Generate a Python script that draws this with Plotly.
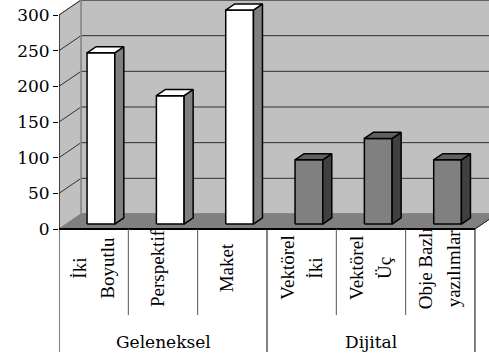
import plotly.graph_objects as go

# ---- data -------------------------------------------------------------
categories = ["İki Boyutlu", "Perspektif", "Maket",
              "Vektörel İki", "Vektörel Üç", "Obje Bazlı yazılımlar"]
label_lines = [["İki", "Boyutlu"], ["Perspektif"], ["Maket"],
               ["Vektörel", "İki"], ["Vektörel", "Üç"], ["Obje Bazlı", "yazılımlar"]]
groups = ["Geleneksel", "Dijital"]
group_of = [0, 0, 0, 1, 1, 1]
values = [240, 180, 300, 90, 120, 90]
y_ticks = [0, 50, 100, 150, 200, 250, 300]

# ---- geometry of the pseudo-3D frame ----------------------------------
W, H = 489, 356
LEFT = 59                 # left margin (px) = front value axis
CAT_PX = 69.33            # px per category
ZERO_PX = 229             # px row of value 0 on the front plane
PPU = 214 / 300           # px per value unit
X0 = -0.5
NCAT = len(values)
X_MAX = X0 + (W - LEFT) / CAT_PX
Y_MIN = -(H - ZERO_PX) / PPU
Y_MAX = ZERO_PX / PPU
DX = 22 / CAT_PX          # depth offset of the back wall (x units)
DY = 15 / PPU             # depth offset of the back wall (value units)
VMAX = max(y_ticks)
BAR_W = 0.40
F0, F1 = 0.33, 0.74       # bar front / back depth fractions


def y_of_px(p):
    return (ZERO_PX - p) / PPU


front_col = ["#FFFFFF", "#808080"]
side_col = ["#808080", "#404040"]
top_col = ["#FFFFFF", "#606060"]
FONT = "Liberation Serif, Times New Roman, serif"

fig = go.Figure()
shapes = []

# back wall
shapes.append(dict(type="rect", xref="x", yref="y", layer="below",
                   x0=X0 + DX, x1=X_MAX + 1, y0=DY, y1=VMAX + DY,
                   fillcolor="#C0C0C0", line=dict(color="#808080", width=1.5)))
# left side wall
shapes.append(dict(type="path", xref="x", yref="y", layer="below",
                   path=f"M {X0},0 L {X0},{VMAX} L {X0+DX},{VMAX+DY} L {X0+DX},{DY} Z",
                   fillcolor="#C0C0C0", line=dict(color="#808080", width=1)))
# floor
x_end = X0 + NCAT
shapes.append(dict(type="path", xref="x", yref="y", layer="below",
                   path=f"M {X0},0 L {X0+DX},{DY} L {x_end+DX},{DY} L {x_end},0 Z",
                   fillcolor="#808080", line=dict(color="#808080", width=1)))
# gridlines on back wall and side wall
for v in y_ticks[1:]:
    shapes.append(dict(type="line", xref="x", yref="y", layer="below",
                       x0=X0 + DX, x1=X_MAX + 1, y0=v + DY, y1=v + DY,
                       line=dict(color="#303030", width=1)))
    shapes.append(dict(type="line", xref="x", yref="y", layer="below",
                       x0=X0, x1=X0 + DX, y0=v, y1=v + DY,
                       line=dict(color="#303030", width=1)))
# back corner edge
shapes.append(dict(type="line", xref="x", yref="y", layer="below",
                   x0=X0 + DX, x1=X0 + DX, y0=DY, y1=VMAX + DY,
                   line=dict(color="#909090", width=1.5)))
# floor right edge
shapes.append(dict(type="line", xref="x", yref="y",
                   x0=x_end, x1=x_end + DX, y0=0, y1=DY,
                   line=dict(color="#202020", width=1)))
# front value axis and category axis
shapes.append(dict(type="line", xref="x", yref="y",
                   x0=X0, x1=X0, y0=0, y1=VMAX, line=dict(color="black", width=1.2)))
shapes.append(dict(type="line", xref="x", yref="y",
                   x0=X0, x1=x_end, y0=0, y1=0, line=dict(color="black", width=2)))

# category dividers below the axis
for k in range(NCAT + 1):
    boundary = k == 0 or k == NCAT or group_of[k - 1] != group_of[k]
    bottom = y_of_px(352 if boundary else 315)
    shapes.append(dict(type="line", xref="x", yref="y",
                       x0=X0 + k, x1=X0 + k, y0=0, y1=bottom,
                       line=dict(color="black" if boundary else "#555555", width=1)))

# ---- bars as extruded boxes -------------------------------------------
for i, v in enumerate(values):
    g = group_of[i]
    xl = i - BAR_W / 2 + DX * F0
    xr = i + BAR_W / 2 + DX * F0
    yb = DY * F0
    yt = v + DY * F0
    ddx = DX * (F1 - F0)
    ddy = DY * (F1 - F0)
    faces = [
        ([xl, xr, xr, xl, xl], [yb, yb, yt, yt, yb], front_col[g]),
        ([xr, xr + ddx, xr + ddx, xr, xr], [yb, yb + ddy, yt + ddy, yt, yb], side_col[g]),
        ([xl, xr, xr + ddx, xl + ddx, xl], [yt, yt, yt + ddy, yt + ddy, yt], top_col[g]),
    ]
    for fx, fy, col in faces:
        fig.add_trace(go.Scatter(x=fx, y=fy, mode="lines", fill="toself",
                                 fillcolor=col, line=dict(color="black", width=1.5),
                                 hoverinfo="skip", showlegend=False))

# ---- category labels (rotated, one annotation per line) ---------------
annotations = []
LINE_GAP = 28 / CAT_PX
for i, lines in enumerate(label_lines):
    n = len(lines)
    shift = (-6 if n == 1 else -1) / CAT_PX
    for j, text in enumerate(lines):
        xc = i + shift + (j - (n - 1) / 2) * LINE_GAP
        annotations.append(dict(x=xc, y=y_of_px(268), xref="x", yref="y",
                                text=text, textangle=-90, showarrow=False,
                                xanchor="center", yanchor="middle",
                                font=dict(family=FONT, size=19, color="black")))
# group labels
for gi, name in enumerate(groups):
    idx = [i for i, g in enumerate(group_of) if g == gi]
    annotations.append(dict(x=sum(idx) / len(idx), y=y_of_px(342), xref="x", yref="y",
                            text=name, showarrow=False, xanchor="center", yanchor="middle",
                            font=dict(family="DejaVu Serif, serif", size=17, color="black")))

fig.update_layout(
    width=W, height=H,
    margin=dict(l=LEFT, r=0, t=0, b=0),
    paper_bgcolor="white", plot_bgcolor="white",
    shapes=shapes, annotations=annotations,
    xaxis=dict(range=[X0, X_MAX], visible=False, fixedrange=True),
    yaxis=dict(range=[Y_MIN, Y_MAX], tickvals=y_ticks, ticks="outside", ticklen=5,
               tickcolor="black", showgrid=False, zeroline=False, showline=False,
               tickfont=dict(family="DejaVu Serif, serif", size=17, color="black"),
               fixedrange=True),
    showlegend=False,
)

fig.write_html("out.html")
